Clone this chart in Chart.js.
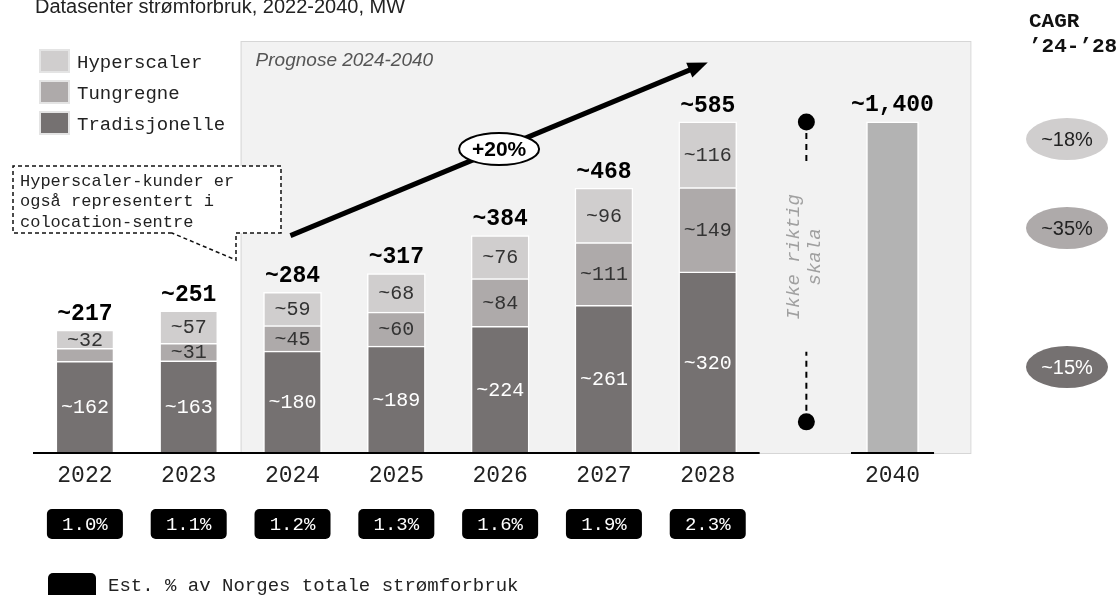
<!DOCTYPE html>
<html>
<head>
<meta charset="utf-8">
<script src="https://cdn.jsdelivr.net/npm/chart.js@4/dist/chart.umd.min.js"></script>
<style>
  html, body { margin: 0; padding: 0; background: #fff; }
  #wrap { width: 1120px; height: 595px; position: relative; }
</style>
</head>
<body>
<div id="wrap"><canvas id="chart" width="1120" height="595"></canvas></div>
<script>
// ── DATA ─────────────────────────────────────────────────────
const years         = ["2022", "2023", "2024", "2025", "2026", "2027", "2028"];
const tradisjonelle = [162, 163, 180, 189, 224, 261, 320];
const tungregne     = [23, 31, 45, 60, 84, 111, 149];
const hyperscaler   = [32, 57, 59, 68, 76, 96, 116];
const shareNorway   = [1.0, 1.1, 1.2, 1.3, 1.6, 1.9, 2.3];   // % av Norges totale strømforbruk
const farYear       = "2040";
const farTotal      = 1400;
const cagrLabels    = ["~18%", "~35%", "~15%"];               // Hyperscaler, Tungregne, Tradisjonelle

// ── STYLE ────────────────────────────────────────────────────
const MONO = "'Liberation Mono', 'DejaVu Sans Mono', monospace";
const SANS = "'Liberation Sans', Arial, sans-serif";
const C_HYP = "#d0cece", C_TUN = "#aeaaaa", C_TRA = "#757171", C_FAR = "#b3b3b3";

const totals = years.map((_, i) => tradisjonelle[i] + tungregne[i] + hyperscaler[i]);
const lastIdx = years.length - 1;
const BREAK_SLOTS = 1.78;                       // extra room for the scale break before 2040
const farX = lastIdx + BREAK_SLOTS;
const tickPos = years.map((_, i) => i).concat(farX);
const tickLbl = years.concat(farYear);
// 2040 is "ikke riktig skala": drawn no taller than the last real bar
const farDrawn = Math.min(farTotal, Math.max(...totals));
const growth = Math.round((Math.pow(totals[lastIdx] / totals[2], 1 / 4) - 1) * 100);

const seg = (label, values, color, textColor) => ({
  label,
  data: values.map((v, i) => ({ x: i, y: v })),
  backgroundColor: color,
  borderColor: "#fff",
  borderWidth: 1.5,
  borderSkipped: "start",
  barThickness: 58,
  segText: textColor,
});

function roundRect(ctx, x, y, w, h, r) {
  ctx.beginPath();
  ctx.roundRect(x, y, w, h, r);
  ctx.fill();
}

const overlay = {
  id: "overlay",
  beforeDatasetsDraw(chart) {
    const { ctx, scales: { x, y }, chartArea } = chart;
    // forecast panel
    const l = (x.getPixelForValue(1) + x.getPixelForValue(2)) / 2;
    const r = x.getPixelForValue(farX + 0.75);
    const b = y.getPixelForValue(0);
    ctx.save();
    ctx.fillStyle = "#f2f2f2";
    ctx.fillRect(l, chartArea.top, r - l, b - chartArea.top);
    ctx.strokeStyle = "#d6d6d6";
    ctx.lineWidth = 1;
    ctx.strokeRect(l + 0.5, chartArea.top + 0.5, r - l, b - chartArea.top);
    ctx.fillStyle = "#555";
    ctx.font = "italic 19px " + SANS;
    ctx.textBaseline = "middle";
    ctx.fillText("Prognose 2024-2040", l + 15, chartArea.top + 20);
    ctx.restore();
  },
  afterDatasetsDraw(chart) {
    const { ctx, scales: { x, y } } = chart;
    ctx.save();
    ctx.textAlign = "center";
    ctx.textBaseline = "middle";

    // segment values
    ctx.font = "20px " + MONO;
    chart.data.datasets.forEach((ds, di) => {
      if (!ds.segText) return;
      chart.getDatasetMeta(di).data.forEach((bar, i) => {
        if (Math.abs(bar.base - bar.y) < 16) return;
        ctx.fillStyle = ds.segText;
        ctx.fillText("~" + ds.data[i].y, bar.x, (bar.y + bar.base) / 2 + 1);
      });
    });

    // totals
    ctx.font = "bold 23px " + MONO;
    ctx.fillStyle = "#000";
    const topMeta = chart.getDatasetMeta(2);
    topMeta.data.forEach((bar, i) => ctx.fillText("~" + totals[i], bar.x, bar.y - 16));
    const farBar = chart.getDatasetMeta(3).data[0];
    ctx.fillText("~" + farTotal.toLocaleString("en-US"), farBar.x, farBar.y - 17);

    // growth arrow
    const p1 = { x: x.getPixelForValue(1.98), y: y.getPixelForValue(384) };
    const p2 = { x: x.getPixelForValue(6), y: y.getPixelForValue(690) };
    const ang = Math.atan2(p2.y - p1.y, p2.x - p1.x);
    const head = 20;
    ctx.strokeStyle = "#000";
    ctx.lineWidth = 5;
    ctx.beginPath();
    ctx.moveTo(p1.x, p1.y);
    ctx.lineTo(p2.x - Math.cos(ang) * head * 0.8, p2.y - Math.sin(ang) * head * 0.8);
    ctx.stroke();
    ctx.fillStyle = "#000";
    ctx.beginPath();
    ctx.moveTo(p2.x, p2.y);
    ctx.lineTo(p2.x - head * Math.cos(ang) + 8 * Math.sin(ang), p2.y - head * Math.sin(ang) - 8 * Math.cos(ang));
    ctx.lineTo(p2.x - head * Math.cos(ang) - 8 * Math.sin(ang), p2.y - head * Math.sin(ang) + 8 * Math.cos(ang));
    ctx.closePath();
    ctx.fill();
    const mx = (p1.x + p2.x) / 2, my = (p1.y + p2.y) / 2;
    ctx.beginPath();
    ctx.ellipse(mx, my, 40, 16, 0, 0, Math.PI * 2);
    ctx.fillStyle = "#fff";
    ctx.fill();
    ctx.lineWidth = 2;
    ctx.stroke();
    ctx.fillStyle = "#000";
    ctx.font = "bold 21px " + SANS;
    ctx.fillText("+" + growth + "%", mx, my + 1);

    // scale break marker
    const bx = x.getPixelForValue(lastIdx + 0.95);
    const yTop = y.getPixelForValue(Math.max(...totals));
    const yBot = y.getPixelForValue(55);
    ctx.lineWidth = 2;
    ctx.setLineDash([6, 5]);
    ctx.beginPath();
    ctx.moveTo(bx, yTop); ctx.lineTo(bx, yTop + 42);
    ctx.moveTo(bx, yBot); ctx.lineTo(bx, yBot - 70);
    ctx.stroke();
    ctx.setLineDash([]);
    [yTop, yBot].forEach(py => {
      ctx.beginPath();
      ctx.arc(bx, py, 8.5, 0, Math.PI * 2);
      ctx.fill();
    });
    ctx.save();
    ctx.translate(bx - 1, yTop + 135);
    ctx.rotate(-Math.PI / 2);
    ctx.fillStyle = "#a0a0a0";
    ctx.font = "italic 19px " + MONO;
    ctx.fillText("Ikke riktig", 0, -11);
    ctx.fillText("skala", 0, 10);
    ctx.restore();

    ctx.restore();
  },
  afterDraw(chart) {
    const { ctx, scales: { x, y } } = chart;
    const b = y.getPixelForValue(0);
    ctx.save();
    // axis segments
    ctx.strokeStyle = "#000";
    ctx.lineWidth = 2;
    ctx.beginPath();
    ctx.moveTo(x.getPixelForValue(-0.5), b); ctx.lineTo(x.getPixelForValue(lastIdx + 0.5), b);
    ctx.moveTo(x.getPixelForValue(farX - 0.4), b); ctx.lineTo(x.getPixelForValue(farX + 0.4), b);
    ctx.stroke();

    // title
    ctx.fillStyle = "#222";
    ctx.font = "20px " + SANS;
    ctx.textBaseline = "alphabetic";
    ctx.fillText("Datasenter strømforbruk, 2022-2040, MW", 35, 13);

    // legend
    ctx.textBaseline = "middle";
    ctx.font = "19px " + MONO;
    [["Hyperscaler", C_HYP], ["Tungregne", C_TUN], ["Tradisjonelle", C_TRA]].forEach(([lbl, col], i) => {
      const ty = 62 + i * 31;
      ctx.fillStyle = col;
      ctx.fillRect(40, ty - 12, 29, 22);
      ctx.strokeStyle = "#e4e4e4";
      ctx.lineWidth = 2;
      ctx.strokeRect(40, ty - 12, 29, 22);
      ctx.fillStyle = "#222";
      ctx.fillText(lbl, 77, ty + 1);
    });

    // callout
    const L = 13, T = 166, R = 281, B = 233, bx1 = 172, bx2 = 236, tipY = 260;
    ctx.beginPath();
    ctx.moveTo(bx1, B); ctx.lineTo(L, B); ctx.lineTo(L, T); ctx.lineTo(R, T);
    ctx.lineTo(R, B); ctx.lineTo(bx2, B); ctx.lineTo(bx2, tipY); ctx.closePath();
    ctx.fillStyle = "#fff";
    ctx.fill();
    ctx.setLineDash([4, 3]);
    ctx.lineWidth = 1.5;
    ctx.strokeStyle = "#111";
    ctx.stroke();
    ctx.setLineDash([]);
    ctx.fillStyle = "#222";
    ctx.font = "17px " + MONO;
    ["Hyperscaler-kunder er", "også representert i", "colocation-sentre"]
      .forEach((t, i) => ctx.fillText(t, 20, 181 + i * 20.5));

    // share badges
    ctx.textAlign = "center";
    ctx.font = "19px " + MONO;
    shareNorway.forEach((v, i) => {
      const cx = x.getPixelForValue(i);
      ctx.fillStyle = "#000";
      roundRect(ctx, cx - 38, 509, 76, 30, 5);
      ctx.fillStyle = "#fff";
      ctx.fillText(v.toFixed(1) + "%", cx, 525);
    });
    ctx.fillStyle = "#000";
    roundRect(ctx, 48, 573, 48, 30, 5);
    ctx.textAlign = "left";
    ctx.fillStyle = "#222";
    ctx.fillText("Est. % av Norges totale strømforbruk", 108, 586);

    // CAGR column
    ctx.fillStyle = "#111";
    ctx.font = "bold 21px " + MONO;
    ctx.fillText("CAGR", 1029, 22);
    ctx.fillText("\u201924-\u201928", 1029, 47);
    ctx.textAlign = "center";
    ctx.font = "20px " + SANS;
    const cagrFill = [C_HYP, C_TUN, C_TRA], cagrY = [139, 228, 367];
    cagrLabels.forEach((t, i) => {
      ctx.beginPath();
      ctx.ellipse(1067, cagrY[i], 41, 21, 0, 0, Math.PI * 2);
      ctx.fillStyle = cagrFill[i];
      ctx.fill();
      ctx.fillStyle = i === 2 ? "#fff" : "#222";
      ctx.fillText(t, 1067, cagrY[i] + 1);
    });
    ctx.restore();
  },
};

new Chart(document.getElementById("chart"), {
  type: "bar",
  data: {
    datasets: [
      seg("Tradisjonelle", tradisjonelle, C_TRA, "#fff"),
      seg("Tungregne", tungregne, C_TUN, "#333"),
      seg("Hyperscaler", hyperscaler, C_HYP, "#333"),
      {
        label: farYear,
        data: [{ x: farX, y: farDrawn }],
        backgroundColor: C_FAR,
        borderColor: "#fff",
        borderWidth: 1.5,
        barThickness: 52,
      },
    ],
  },
  options: {
    responsive: false,
    animation: false,
    layout: { autoPadding: false, padding: { left: 33, top: 41, right: 173.5, bottom: 102 } },
    plugins: { legend: { display: false }, tooltip: { enabled: false } },
    scales: {
      x: {
        type: "linear",
        stacked: true,
        min: -0.5,
        max: 8.3,
        offset: false,
        grid: { display: false, drawTicks: false },
        border: { display: false },
        afterBuildTicks: s => { s.ticks = tickPos.map(v => ({ value: v })); },
        afterFit: s => { s.height = 40; s.paddingLeft = 0; s.paddingRight = 0; },
        ticks: {
          autoSkip: false,
          maxRotation: 0,
          padding: 9,
          color: "#222",
          font: { family: MONO, size: 23 },
          callback: (v, i) => tickLbl[i],
        },
      },
      y: { stacked: true, display: false, min: 0, max: 728 },
    },
  },
  plugins: [overlay],
});
</script>
</body>
</html>
